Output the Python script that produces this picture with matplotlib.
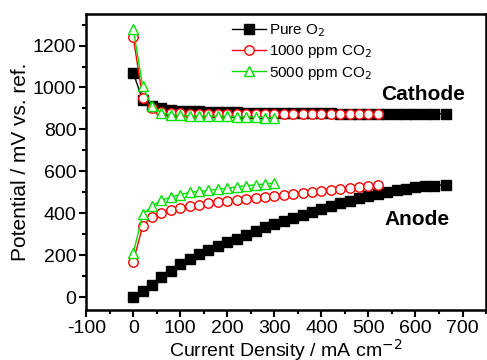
import matplotlib.pyplot as plt
from matplotlib.ticker import MultipleLocator

plt.rcParams['font.family'] = ['Liberation Sans', 'DejaVu Sans']
plt.rcParams['axes.unicode_minus'] = False

# Pure O2
o2_x = [0, 20, 40, 60, 80, 100, 120, 140, 160, 180, 200, 220, 240, 260, 280, 300, 320,
        340, 360, 380, 400, 420, 440, 460, 480, 500, 520, 540, 560, 580, 600, 620, 640, 665]
o2_cath = [1070, 940, 910, 900, 895, 890, 888, 886, 884, 883, 882, 881, 880, 880, 879, 879, 878,
           878, 878, 877, 877, 877, 876, 876, 876, 876, 875, 875, 875, 875, 875, 875, 875, 875]
o2_anode = [0, 28, 58, 95, 128, 160, 185, 205, 228, 246, 262, 280, 298, 316, 333, 350, 366,
            380, 394, 408, 422, 436, 448, 460, 472, 483, 494, 503, 511, 518, 524, 529, 533, 537]

# 1000 ppm CO2
c1_x = [0, 20, 40, 60, 80, 100, 120, 140, 160, 180, 200, 220, 240, 260, 280, 300, 320,
        340, 360, 380, 400, 420, 440, 460, 480, 500, 520]
c1_cath = [1240, 950, 900, 885, 880, 877, 876, 875, 875, 875, 875, 875, 875, 874, 874, 874, 874,
           874, 873, 873, 873, 873, 873, 873, 873, 873, 873]
c1_anode = [170, 340, 385, 403, 415, 425, 433, 440, 448, 455, 460, 465, 469, 473, 478, 483, 488,
            492, 497, 502, 507, 512, 517, 522, 527, 532, 537]

# 5000 ppm CO2
c5_x = [0, 20, 40, 60, 80, 100, 120, 140, 160, 180, 200, 220, 240, 260, 280, 300]
c5_cath = [1280, 1005, 910, 880, 870, 867, 865, 864, 864, 863, 862, 861, 860, 859, 857, 855]
c5_anode = [210, 395, 435, 463, 478, 490, 500, 505, 510, 515, 520, 527, 532, 536, 540, 545]

fig = plt.figure(figsize=(4.87, 3.6), dpi=100)
ax = fig.add_axes([0.177, 0.139, 0.821, 0.822])

ms = 6.8
ax.plot(o2_x, o2_cath, '-s', color='black', ms=ms, lw=1, label='Pure O$_2$')
ax.plot(o2_x, o2_anode, '-s', color='black', ms=ms, lw=1)
ax.plot(c1_x, c1_cath, '-o', color='red', mfc='white', ms=ms, lw=1, label='1000 ppm CO$_2$')
ax.plot(c1_x, c1_anode, '-o', color='red', mfc='white', ms=ms, lw=1)
ax.plot(c5_x, c5_cath, '-^', color='#00e000', mfc='white', ms=ms + 1, lw=1, label='5000 ppm CO$_2$')
ax.plot(c5_x, c5_anode, '-^', color='#00e000', mfc='white', ms=ms + 1, lw=1)

ax.set_xlim(-100, 750)
ax.set_ylim(-60, 1350)
ax.xaxis.set_major_locator(MultipleLocator(100))
ax.xaxis.set_minor_locator(MultipleLocator(50))
ax.yaxis.set_major_locator(MultipleLocator(200))
ax.yaxis.set_minor_locator(MultipleLocator(100))
ax.tick_params(which='major', direction='out', length=5, width=1.5, labelsize=14, pad=2)
ax.tick_params(which='minor', direction='out', length=3, width=1.5)
for s in ax.spines.values():
    s.set_linewidth(1.8)

ax.set_xlabel('Current Density / mA cm$^{-2}$', fontsize=14, labelpad=0)
ax.set_ylabel('Potential / mV vs. ref.', fontsize=15, labelpad=2)

ax.text(616, 965, 'Cathode', fontsize=15, fontweight='bold', ha='center', va='center')
ax.text(603, 370, 'Anode', fontsize=15, fontweight='bold', ha='center', va='center')

ax.legend(loc='upper left', bbox_to_anchor=(0.33, 1.02), frameon=False, fontsize=11,
          handlelength=2.2, handletextpad=0.2, labelspacing=0.3)

fig.savefig('out.png', dpi=100)
